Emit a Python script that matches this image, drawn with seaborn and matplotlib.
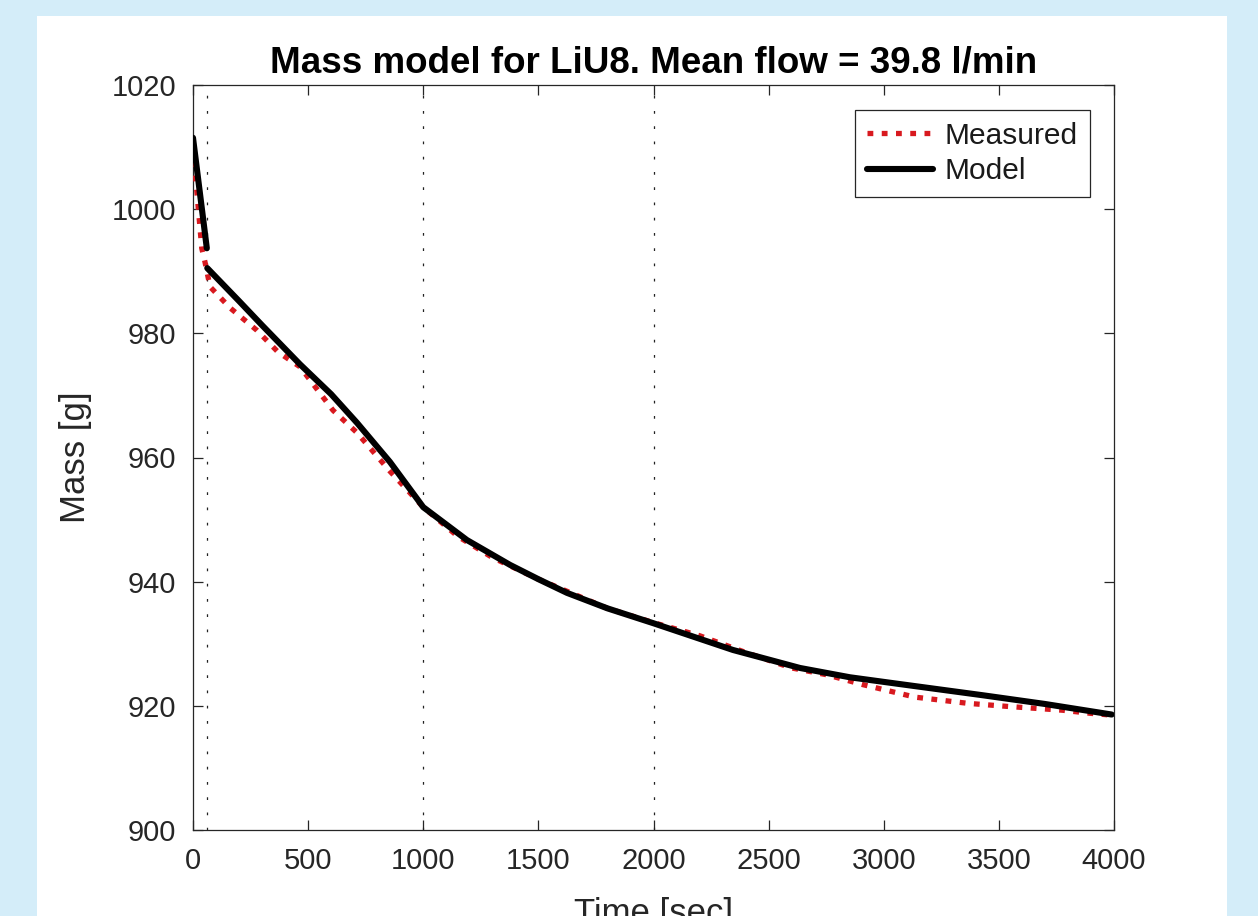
import numpy as np
import pandas as pd
import matplotlib
matplotlib.use("Agg")
import matplotlib.pyplot as plt
from matplotlib.lines import Line2D
from matplotlib.patches import Rectangle
import seaborn as sns

# ---- data ----
model_t = [0, 60, 62, 200, 300, 465, 600, 712, 855, 1000, 1190, 1377, 1500, 1624, 1800,
           2000, 2345, 2636, 2853, 3071, 3431, 3700, 3990]
model_m = [1011.5, 993.7, 990.5, 985.2, 981.3, 975.0, 970.2, 965.6, 959.3, 952.0, 946.7,
           942.7, 940.4, 938.2, 935.7, 933.3, 929.0, 926.1, 924.6, 923.5, 921.7,
           920.3, 918.6]
model_seg = [0, 0] + [1] * 21

meas_t = [0, 38, 52, 74, 161, 277, 369, 465, 608, 712, 855, 1000, 1150, 1300, 1500,
          1800, 2000, 2200, 2400, 2600, 2753, 2911, 3136, 3366, 3540, 3774, 3896, 3990]
meas_m = [1010.0, 993.7, 991.5, 987.5, 984.1, 980.5, 977.0, 974.6, 967.6, 964.0,
          957.8, 952.0, 947.3, 943.9, 940.4, 935.7, 933.4, 931.3, 928.6, 926.1,
          925.0, 923.4, 921.4, 920.4, 919.9, 919.3, 918.8, 918.5]

phase_times = [60, 1000, 2000]
x_ticks = [0, 500, 1000, 1500, 2000, 2500, 3000, 3500, 4000]
y_ticks = [900, 920, 940, 960, 980, 1000, 1020]

title = "Mass model for LiU8. Mean flow = 39.8 l/min"
xlabel = "Time [sec]"
ylabel = "Mass [g]"

# ---- style ----
sns.set_style("ticks")
plt.rcParams['font.family'] = ['Liberation Sans', 'DejaVu Sans']

W, H = 1258, 916
fig = plt.figure(figsize=(W / 100, H / 100), dpi=100)
fig.patch.set_facecolor('#d4edf9')
fig.patches.append(Rectangle((37 / W, 0), (1227 - 37) / W, (916 - 16) / H,
                             transform=fig.transFigure, facecolor='white',
                             edgecolor='none', zorder=-10))

ax = fig.add_axes([193 / W, 1 - 830 / H, (1114 - 193) / W, (830 - 85) / H])
ax.set_zorder(5)
ax.set_facecolor('white')

df_meas = pd.DataFrame({'t': meas_t, 'm': meas_m})
df_model = pd.DataFrame({'t': model_t, 'm': model_m, 'seg': model_seg})

red = '#d8191f'
red_ls = (0, (1.1, 1.6))
for xv in phase_times:
    ax.axvline(xv, color='#222222', lw=0.9, linestyle=(0, (2.2, 10)), zorder=1)

sns.lineplot(data=df_meas, x='t', y='m', ax=ax, color=red, lw=3.8,
             estimator=None, sort=False, legend=False, zorder=3)
ax.lines[-1].set_linestyle(red_ls)
ax.lines[-1].set_dash_capstyle('butt')

sns.lineplot(data=df_model, x='t', y='m', units='seg', ax=ax, color='black', lw=4.4,
             estimator=None, sort=False, legend=False, zorder=4)

ax.set_xlim(x_ticks[0], x_ticks[-1])
ax.set_ylim(y_ticks[0], y_ticks[-1])
ax.set_xticks(x_ticks)
ax.set_yticks(y_ticks)
ax.tick_params(axis='both', direction='in', length=7, width=0.9, colors='#262626',
               labelsize=21, top=True, right=True, labelcolor='#262626')
ax.tick_params(axis='x', pad=12)
ax.tick_params(axis='y', pad=12)
for sp in ax.spines.values():
    sp.set_visible(True)
    sp.set_color('#262626')
    sp.set_linewidth(0.9)

ax.set_title(title, fontsize=26.5, fontweight='bold', color='black', pad=9)
ax.set_xlabel(xlabel, fontsize=25, color='#262626', labelpad=16)
ax.set_ylabel(ylabel, fontsize=25, color='#262626', labelpad=14)

handles = [Line2D([], [], color=red, lw=3.8, linestyle=red_ls, dash_capstyle='butt'),
           Line2D([], [], color='black', lw=4.4)]
leg = ax.legend(handles, ['Measured', 'Model'], loc='upper right',
                bbox_to_anchor=((1090 - 193) / 921, 1 - (110 - 85) / 745),
                borderaxespad=0, fontsize=21.5, frameon=True, fancybox=False,
                framealpha=1, edgecolor='#262626', handlelength=2.2,
                handletextpad=0.4, borderpad=0.4, labelspacing=0.25)
leg.get_frame().set_linewidth(0.9)
for t in leg.get_texts():
    t.set_color('#1a1a1a')

fig.savefig('out.png', dpi=100, facecolor=fig.get_facecolor())
